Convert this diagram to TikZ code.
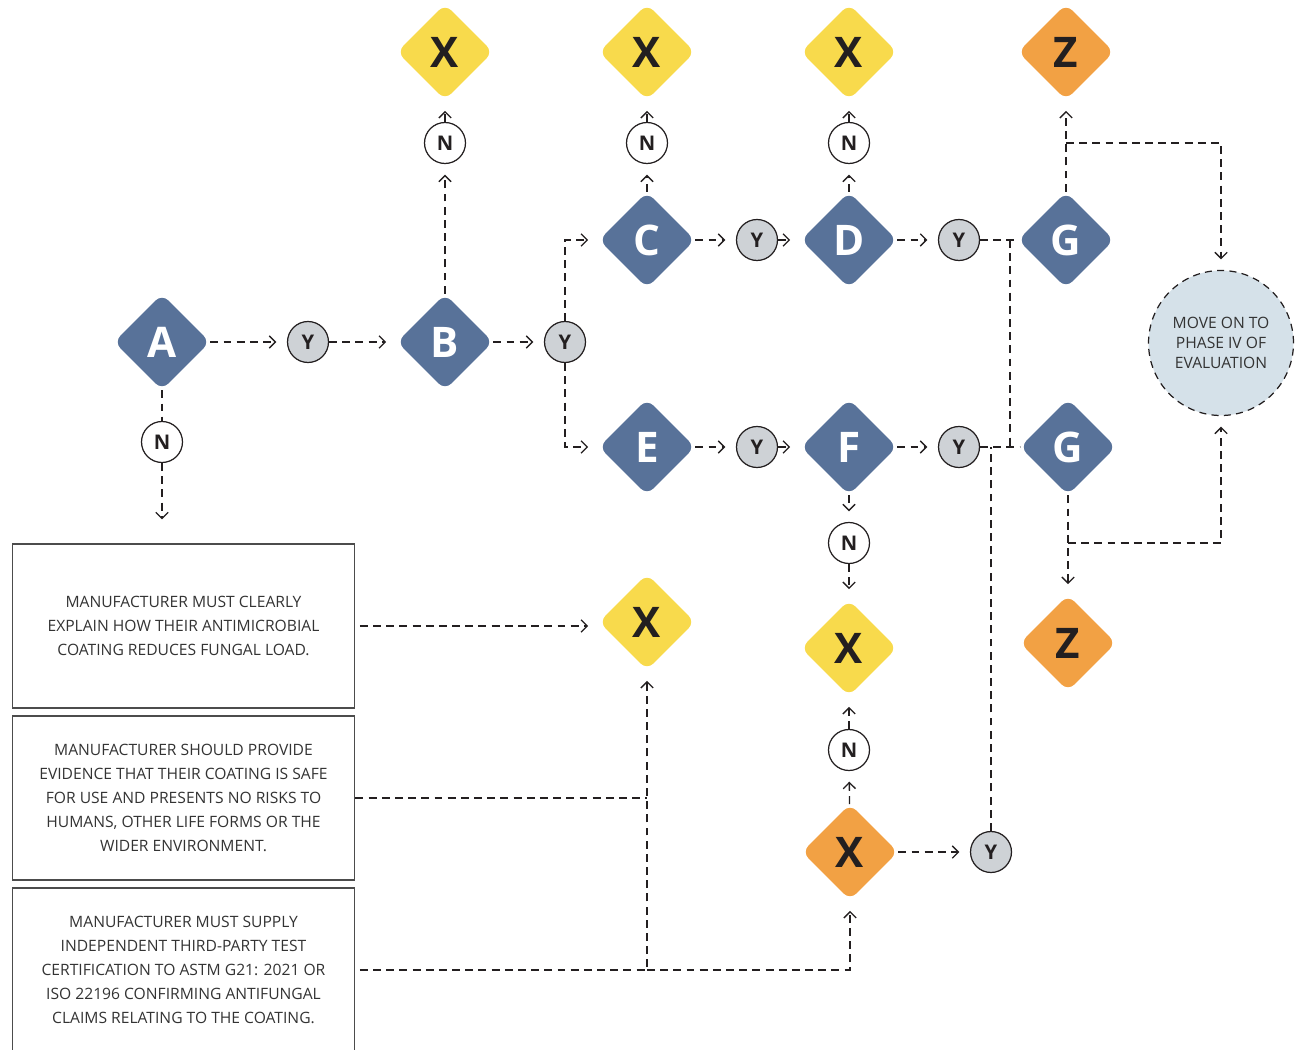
\documentclass[tikz,border=0pt]{standalone}
\usepackage{fontspec}
\setmainfont{Open Sans}
\usetikzlibrary{positioning,arrows.meta,calc,shapes.geometric}
\definecolor{slate}{RGB}{88,114,153}
\definecolor{sun}{RGB}{248,218,76}
\definecolor{amber}{RGB}{242,161,68}
\definecolor{pebble}{RGB}{206,210,214}
\definecolor{mist}{RGB}{213,225,233}
\definecolor{ink}{RGB}{35,31,32}

\begin{document}
\begin{tikzpicture}[x=0.02cm,y=-0.02cm,>={Straight Barb[length=3.5pt,width=7pt]},
    qdia/.style={diamond,aspect=1,minimum size=1.92cm,inner sep=0pt,rounded corners=5pt,
                 font=\fontsize{24}{24}\selectfont\bfseries},
    step q/.style={qdia,fill=slate,text=white},
    xdia/.style={qdia,fill=sun,text=ink},
    zdia/.style={qdia,fill=amber,text=ink},
    ynode/.style={circle,draw=ink,line width=0.7pt,fill=pebble,minimum size=0.82cm,inner sep=0pt,
                  font=\fontsize{11.5}{11.5}\selectfont\bfseries,text=ink},
    nnode/.style={ynode,fill=white},
    note/.style={draw=black!70,line width=0.6pt,minimum width=6.86cm,minimum height=3.28cm,
                 align=center,font=\fontsize{8.9}{13.6}\selectfont,text=black!80},
    goal/.style={circle,draw=ink,fill=mist,line width=0.7pt,dash pattern=on 4pt off 3pt,
                 minimum size=2.9cm,align=center,font=\fontsize{8.9}{11.5}\selectfont,text=black!80},
    link/.style={draw=ink,line width=0.75pt,dash pattern=on 4.5pt off 3pt},
    arr/.style={link,->,shorten >=6pt}]
  \useasboundingbox (0,0) rectangle (1301,1050);

  % main row
  \node[step q] (a) at (162,342) {A};
  \node[ynode] (y1) at (308,342) {Y};
  \node[step q] (b) at (445,342) {B};
  \node[ynode] (y2) at (565,342) {Y};
  \node[step q] (c) at (647,240) {C};
  \node[ynode] (y3) at (757,240) {Y};
  \node[step q] (d) at (849,240) {D};
  \node[ynode] (y4) at (959,240) {Y};
  \node[step q] (g1) at (1066,240) {G};
  \node[step q] (e) at (647,447) {E};
  \node[ynode] (y5) at (757,447) {Y};
  \node[step q] (f) at (849,447) {F};
  \node[ynode] (y6) at (959,447) {Y};
  \node[step q] (g2) at (1068,447) {G};

  % top row
  \node[nnode] (nb) at (445,143) {N};
  \node[nnode] (nc) at (647,143) {N};
  \node[nnode] (nd) at (849,143) {N};
  \node[xdia] (xb) at (445,52) {X};
  \node[xdia] (xc) at (647,52) {X};
  \node[xdia] (xd) at (849,52) {X};
  \node[zdia] (zt) at (1066,52) {Z};
  \node[goal] (mv) at (1221,343) {MOVE ON TO\\PHASE IV OF\\EVALUATION};

  % lower part
  \node[nnode] (na) at (162,442) {N};
  \node[nnode] (nf) at (849,543) {N};
  \node[xdia] (xf) at (849,648) {X};
  \node[nnode] (nl) at (849,750) {N};
  \node[zdia] (xo) at (850,852) {X};
  \node[ynode] (y7) at (991,852) {Y};
  \node[xdia] (xl) at (647,622) {X};
  \node[zdia] (zb) at (1068,643) {Z};

  \node[note] (box1) at (183.5,626) {MANUFACTURER MUST CLEARLY\\EXPLAIN HOW THEIR ANTIMICROBIAL\\COATING REDUCES FUNGAL LOAD.};
  \node[note] (box2) at (183.5,798) {MANUFACTURER SHOULD PROVIDE\\EVIDENCE THAT THEIR COATING IS SAFE\\FOR USE AND PRESENTS NO RISKS TO\\HUMANS, OTHER LIFE FORMS OR THE\\WIDER ENVIRONMENT.};
  \node[note] (box3) at (183.5,970) {MANUFACTURER MUST SUPPLY\\INDEPENDENT THIRD-PARTY TEST\\CERTIFICATION TO ASTM G21: 2021 OR\\ISO 22196 CONFIRMING ANTIFUNGAL\\CLAIMS RELATING TO THE COATING.};

  \coordinate (jt) at (1010,240);
  \coordinate (jb) at (1010,447);
  \coordinate (gt) at (g1 |- nb);
  \coordinate (gb) at (g2 |- nf);
  \coordinate (ae) at (162,530);
  \coordinate (bj) at (box3 -| xl);

  % connectors
  \draw[arr] (a) -- (y1);
  \draw[arr] (y1) -- (b);
  \draw[arr] (b) -- (y2);
  \draw[arr] (y2) |- (c);
  \draw[arr] (y2) |- (e);
  \draw[arr] (c) -- (y3);
  \draw[arr] (y3) -- (d);
  \draw[arr] (d) -- (y4);
  \draw[arr] (e) -- (y5);
  \draw[arr] (y5) -- (f);
  \draw[arr] (f) -- (y6);
  \draw[link] (y4) -- (g1);
  \draw[link] (y6) -- (g2);
  \draw[link] (jt) -- (jb);
  \draw[link] (y7) -- (y7 |- y6);
  \draw[arr] (b) -- (nb);
  \draw[arr] (nb) -- (xb);
  \draw[arr] (c) -- (nc);
  \draw[arr] (nc) -- (xc);
  \draw[arr] (d) -- (nd);
  \draw[arr] (nd) -- (xd);
  \draw[arr] (g1) -- (zt);
  \draw[arr] (gt) -| (mv);
  \draw[arr] (g2) -- (zb);
  \draw[arr] (gb) -| (mv);
  \draw[link] (a) -- (na);
  \draw[arr] (na) -- (ae);
  \draw[arr] (f) -- (nf);
  \draw[arr] (nf) -- (xf);
  \draw[arr] (xo) -- (nl);
  \draw[arr] (nl) -- (xf);
  \draw[arr] (xo) -- (y7);
  \draw[arr,shorten <=2.5pt] (box1.east) -- (xl.west |- box1.east);
  \draw[link] (box2) -- (box2 -| xl);
  \draw[arr,shorten <=2.5pt] (box3) -| (xl);
  \draw[arr] (bj) -| (xo);
\end{tikzpicture}
\end{document}
